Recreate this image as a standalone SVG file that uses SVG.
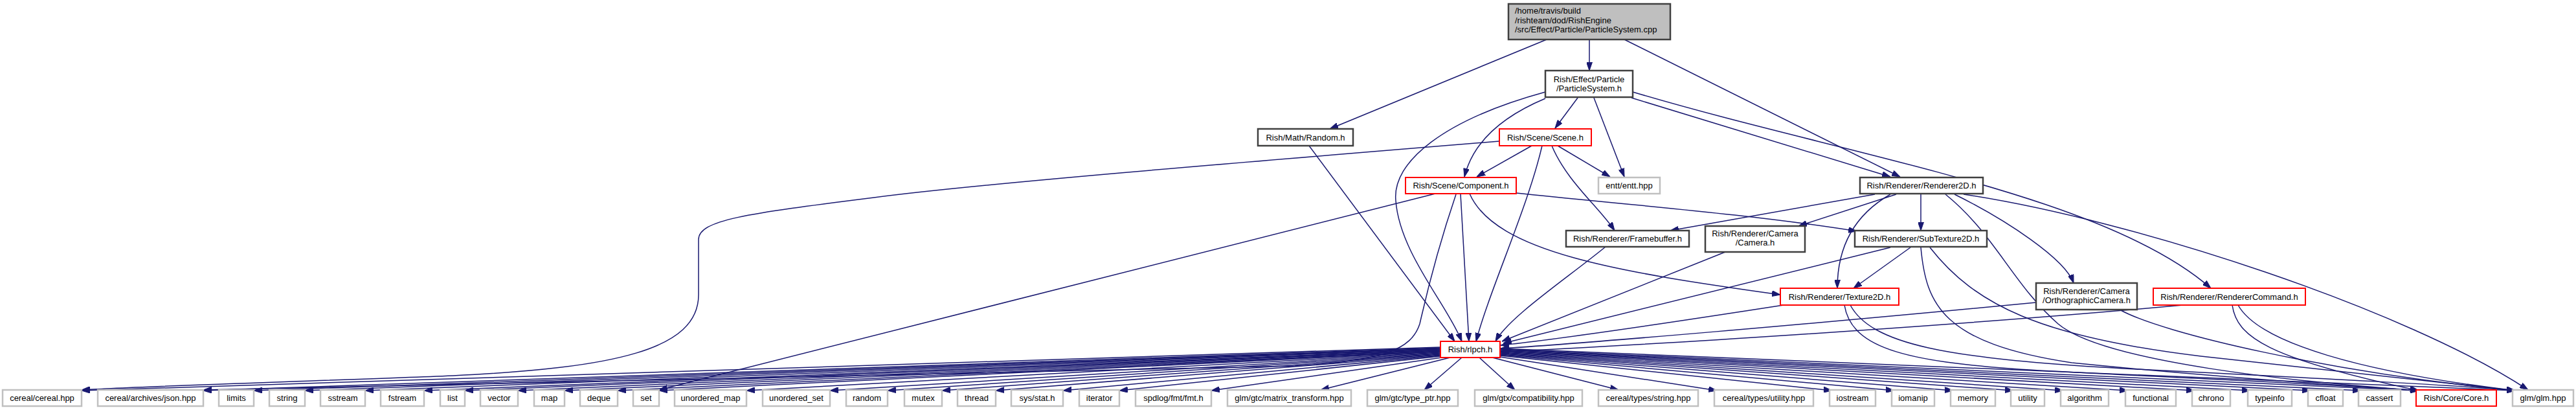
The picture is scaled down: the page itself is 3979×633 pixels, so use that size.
<svg xmlns="http://www.w3.org/2000/svg" width="3979" height="633" viewBox="0 0 3979 633">
<defs>
<marker id="a" markerWidth="13" markerHeight="9" refX="13" refY="4.5" orient="auto" markerUnits="userSpaceOnUse"><path d="M0,0L13,4.5L0,9z" fill="#191970" stroke="#191970" stroke-width="1"/></marker>
<style>
text{font-family:"Liberation Sans",Arial,sans-serif;font-size:13px;fill:#000;text-anchor:middle}
.l{text-anchor:start}
.nb{fill:#fff;stroke:#404040;stroke-width:2.5}
.nr{fill:#fff;stroke:#ff0000;stroke-width:2}
.ng{fill:#fff;stroke:#c0c0c0;stroke-width:2.5}
.root{fill:#bfbfbf;stroke:#404040;stroke-width:2.5}
#edges path{fill:none;stroke:#191970;stroke-width:1.5;marker-end:url(#a)}
</style>
</defs>
<rect width="3979" height="633" fill="#fff"/>
<g id="edges">
<path d="M2455,61 L2455,109"/>
<path d="M2389,61 L2054,199"/>
<path d="M2509,61 L2935,273"/>
<path d="M2437,151 L2402,198"/>
<path d="M2462,151 L2509,273"/>
<path d="M2520,151 L2920,273"/>
<path d="M2387,152 C2320,180 2275,220 2262,273"/>
<path d="M2387,142 C2230,185 2150,250 2156,310 C2162,390 2235,470 2258,527"/>
<path d="M2522,142 C2850,240 3250,300 3415,445"/>
<path d="M2366,225 L2281,273"/>
<path d="M2406,225 L2487,273"/>
<path d="M2397,225 C2420,280 2470,320 2494,356"/>
<path d="M2382,225 C2360,320 2300,450 2280,527"/>
<path d="M2316,218 C1900,252 1500,285 1350,305 C1150,330 1079,340 1079,370 L1079,455 C1079,540 950,568 700,580 C500,588 200,597 126,602"/>
<path d="M2022,225 L2247,527"/>
<path d="M2256,299 L2269,527"/>
<path d="M2217,299 L1018,602"/>
<path d="M2249,300 C2215,400 2200,470 2193,500 C2180,540 2137,557 2000,565 L314,602"/>
<path d="M2270,299 C2310,390 2500,420 2750,455"/>
<path d="M2342,298 C2500,315 2700,330 2868,357"/>
<path d="M2896,300 L2580,356"/>
<path d="M2929,300 L2778,349"/>
<path d="M2920,300 C2850,340 2838,400 2838,445"/>
<path d="M2967,300 L2967,356"/>
<path d="M3019,300 C3100,340 3190,400 3203,437"/>
<path d="M3005,300 C3080,360 3110,440 3179,500 C3250,560 3550,590 3736,603"/>
<path d="M3033,300 C3300,340 3720,480 3905,602"/>
<path d="M2480,381 C2420,430 2330,490 2310,527"/>
<path d="M2665,389 L2320,527"/>
<path d="M2920,382 L2322,530"/>
<path d="M2951,382 L2863,445"/>
<path d="M2967,382 C2975,470 3000,530 3200,560 C3450,585 3650,597 3736,603"/>
<path d="M2981,382 C3050,470 3150,520 3400,550 C3650,578 3820,595 3885,603"/>
<path d="M2755,471 C2600,495 2400,525 2318,533"/>
<path d="M2849,471 C2860,540 2950,560 3150,572 C3400,585 3650,596 3736,603"/>
<path d="M2858,471 C2890,530 3000,555 3300,570 C3600,585 3800,595 3885,603"/>
<path d="M3145,467 C2800,500 2450,530 2318,538"/>
<path d="M3274,478 C3340,515 3600,575 3885,603"/>
<path d="M3372,471 C3000,505 2500,535 2318,543"/>
<path d="M3448,471 C3455,520 3501,553 3736,603"/>
<path d="M3457,471 C3490,530 3650,575 3885,603"/>
<path d="M2225,536 L126,603"/>
<path d="M2225,537 L314,603"/>
<path d="M2225,538 L392,603"/>
<path d="M2225,538.5 L471,603"/>
<path d="M2225,539 L564,603"/>
<path d="M2225,540 L655,603"/>
<path d="M2225,540.5 L718,603"/>
<path d="M2225,541 L800,603"/>
<path d="M2225,542 L872,603"/>
<path d="M2225,542.5 L954,603"/>
<path d="M2225,543 L1018,603"/>
<path d="M2225,544 L1153,603"/>
<path d="M2225,545 L1282,603"/>
<path d="M2225,546 L1371,603"/>
<path d="M2225,547 L1455,603"/>
<path d="M2225,548 L1538,603"/>
<path d="M2225,549 L1642,603"/>
<path d="M2225,550 L1729,603"/>
<path d="M2227,552 L1871,603"/>
<path d="M2240,552 L2040,602"/>
<path d="M2258,552 L2200,602"/>
<path d="M2285,552 L2340,602"/>
<path d="M2305,552 L2500,602"/>
<path d="M2317,551 L2652,603"/>
<path d="M2317,549 L2830,603"/>
<path d="M2317,548 L2926,603"/>
<path d="M2317,547 L3017,603"/>
<path d="M2317,546 L3110,603"/>
<path d="M2317,545 L3187,603"/>
<path d="M2317,544 L3287,603"/>
<path d="M2317,543 L3390,603"/>
<path d="M2317,542 L3476,603"/>
<path d="M2317,541 L3569,603"/>
<path d="M2317,540 L3647,603"/>
<path d="M2317,539 L3736,603"/>
<path d="M2317,538 L3885,603"/>
</g>
<g id="n_root"><rect class="root" x="2330" y="6" width="250" height="55"/><text class="l" x="2340" y="21">/home/travis/build</text><text class="l" x="2340" y="35.5">/rishteam/dod/RishEngine</text><text class="l" x="2340" y="50">/src/Effect/Particle/ParticleSystem.cpp</text></g>
<g id="n_ps"><rect class="nb" x="2387" y="109" width="135" height="41"/><text x="2454.5" y="126.5">Rish/Effect/Particle</text><text x="2454.5" y="141">/ParticleSystem.h</text></g>
<g id="n_random"><rect class="nb" x="1943" y="199" width="147" height="26"/><text x="2016.5" y="216.5">Rish/Math/Random.h</text></g>
<g id="n_scene"><rect class="nr" x="2316" y="199" width="142" height="26"/><text x="2387" y="216.5">Rish/Scene/Scene.h</text></g>
<g id="n_component"><rect class="nr" x="2171" y="274" width="171" height="25"/><text x="2256.5" y="291">Rish/Scene/Component.h</text></g>
<g id="n_entt"><rect class="ng" x="2469" y="274" width="95" height="25"/><text x="2516.5" y="291">entt/entt.hpp</text></g>
<g id="n_r2d"><rect class="nb" x="2873" y="274" width="190" height="25"/><text x="2968" y="291">Rish/Renderer/Renderer2D.h</text></g>
<g id="n_fb"><rect class="nb" x="2419" y="356" width="190" height="25"/><text x="2514" y="373">Rish/Renderer/Framebuffer.h</text></g>
<g id="n_cam"><rect class="nb" x="2634" y="349" width="154" height="40"/><text x="2711" y="364.5">Rish/Renderer/Camera</text><text x="2711" y="379">/Camera.h</text></g>
<g id="n_sub"><rect class="nb" x="2865" y="356" width="204" height="25"/><text x="2967" y="373">Rish/Renderer/SubTexture2D.h</text></g>
<g id="n_tex"><rect class="nr" x="2750" y="445" width="183" height="26"/><text x="2841.5" y="462.5">Rish/Renderer/Texture2D.h</text></g>
<g id="n_ortho"><rect class="nb" x="3145" y="437" width="156" height="41"/><text x="3223" y="453.5">Rish/Renderer/Camera</text><text x="3223" y="468">/OrthographicCamera.h</text></g>
<g id="n_cmd"><rect class="nr" x="3326" y="445" width="235" height="26"/><text x="3443.5" y="462.5">Rish/Renderer/RendererCommand.h</text></g>
<g id="n_rlpch"><rect class="nr" x="2225" y="527" width="92" height="25"/><text x="2271" y="544">Rish/rlpch.h</text></g>
<g id="n_b1"><rect class="ng" x="4" y="602" width="122" height="25"/><text x="65" y="619">cereal/cereal.hpp</text></g>
<g id="n_b2"><rect class="ng" x="151" y="602" width="163" height="25"/><text x="232.5" y="619">cereal/archives/json.hpp</text></g>
<g id="n_b3"><rect class="ng" x="338" y="602" width="54" height="25"/><text x="365" y="619">limits</text></g>
<g id="n_b4"><rect class="ng" x="416" y="602" width="55" height="25"/><text x="443.5" y="619">string</text></g>
<g id="n_b5"><rect class="ng" x="495" y="602" width="69" height="25"/><text x="529.5" y="619">sstream</text></g>
<g id="n_b6"><rect class="ng" x="588" y="602" width="67" height="25"/><text x="621.5" y="619">fstream</text></g>
<g id="n_b7"><rect class="ng" x="680" y="602" width="38" height="25"/><text x="699" y="619">list</text></g>
<g id="n_b8"><rect class="ng" x="742" y="602" width="58" height="25"/><text x="771" y="619">vector</text></g>
<g id="n_b9"><rect class="ng" x="825" y="602" width="47" height="25"/><text x="848.5" y="619">map</text></g>
<g id="n_b10"><rect class="ng" x="896" y="602" width="58" height="25"/><text x="925" y="619">deque</text></g>
<g id="n_b11"><rect class="ng" x="978" y="602" width="40" height="25"/><text x="998" y="619">set</text></g>
<g id="n_b12"><rect class="ng" x="1042" y="602" width="111" height="25"/><text x="1097.5" y="619">unordered_map</text></g>
<g id="n_b13"><rect class="ng" x="1178" y="602" width="104" height="25"/><text x="1230" y="619">unordered_set</text></g>
<g id="n_b14"><rect class="ng" x="1307" y="602" width="64" height="25"/><text x="1339" y="619">random</text></g>
<g id="n_b15"><rect class="ng" x="1397" y="602" width="58" height="25"/><text x="1426" y="619">mutex</text></g>
<g id="n_b16"><rect class="ng" x="1479" y="602" width="59" height="25"/><text x="1508.5" y="619">thread</text></g>
<g id="n_b17"><rect class="ng" x="1562" y="602" width="80" height="25"/><text x="1602" y="619">sys/stat.h</text></g>
<g id="n_b18"><rect class="ng" x="1667" y="602" width="62" height="25"/><text x="1698" y="619">iterator</text></g>
<g id="n_b19"><rect class="ng" x="1754" y="602" width="117" height="25"/><text x="1812.5" y="619">spdlog/fmt/fmt.h</text></g>
<g id="n_b20"><rect class="ng" x="1896" y="602" width="191" height="25"/><text x="1991.5" y="619">glm/gtc/matrix_transform.hpp</text></g>
<g id="n_b21"><rect class="ng" x="2112" y="602" width="140" height="25"/><text x="2182" y="619">glm/gtc/type_ptr.hpp</text></g>
<g id="n_b22"><rect class="ng" x="2278" y="602" width="166" height="25"/><text x="2361" y="619">glm/gtx/compatibility.hpp</text></g>
<g id="n_b23"><rect class="ng" x="2469" y="602" width="154" height="25"/><text x="2546" y="619">cereal/types/string.hpp</text></g>
<g id="n_b24"><rect class="ng" x="2648" y="602" width="153" height="25"/><text x="2724.5" y="619">cereal/types/utility.hpp</text></g>
<g id="n_b25"><rect class="ng" x="2826" y="602" width="71" height="25"/><text x="2861.5" y="619">iostream</text></g>
<g id="n_b26"><rect class="ng" x="2922" y="602" width="66" height="25"/><text x="2955" y="619">iomanip</text></g>
<g id="n_b27"><rect class="ng" x="3013" y="602" width="69" height="25"/><text x="3047.5" y="619">memory</text></g>
<g id="n_b28"><rect class="ng" x="3106" y="602" width="52" height="25"/><text x="3132" y="619">utility</text></g>
<g id="n_b29"><rect class="ng" x="3183" y="602" width="74" height="25"/><text x="3220" y="619">algorithm</text></g>
<g id="n_b30"><rect class="ng" x="3283" y="602" width="78" height="25"/><text x="3322" y="619">functional</text></g>
<g id="n_b31"><rect class="ng" x="3386" y="602" width="59" height="25"/><text x="3415.5" y="619">chrono</text></g>
<g id="n_b32"><rect class="ng" x="3472" y="602" width="68" height="25"/><text x="3506" y="619">typeinfo</text></g>
<g id="n_b33"><rect class="ng" x="3565" y="602" width="54" height="25"/><text x="3592" y="619">cfloat</text></g>
<g id="n_b34"><rect class="ng" x="3643" y="602" width="65" height="25"/><text x="3675.5" y="619">cassert</text></g>
<g id="n_core"><rect class="nr" x="3732" y="602" width="124" height="25"/><text x="3794" y="619">Rish/Core/Core.h</text></g>
<g id="n_glm"><rect class="ng" x="3881" y="602" width="94" height="25"/><text x="3928" y="619">glm/glm.hpp</text></g>
</svg>
